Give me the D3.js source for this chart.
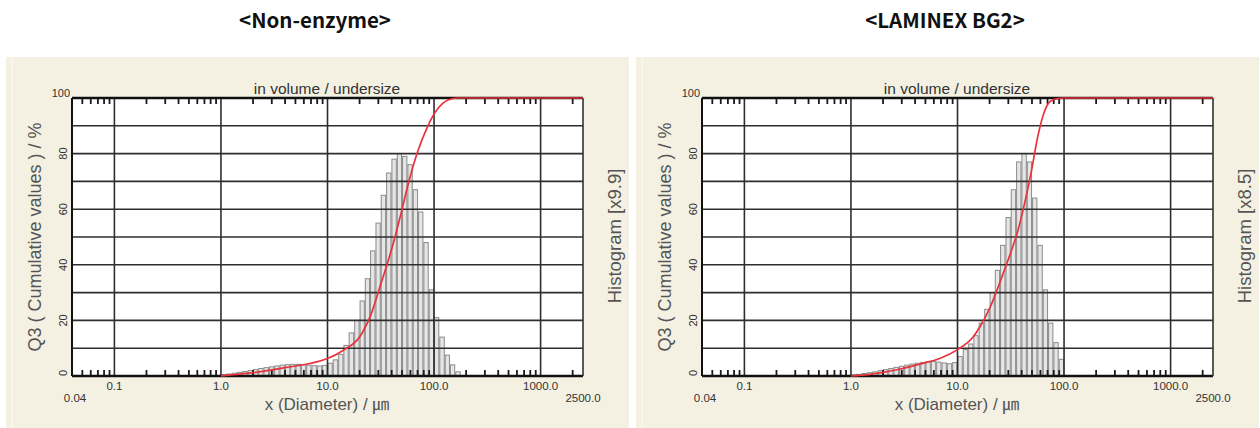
<!DOCTYPE html>
<html>
<head>
<meta charset="utf-8">
<script src="https://cdn.jsdelivr.net/npm/d3@7/dist/d3.min.js"></script>
<style>
  html, body { margin: 0; padding: 0; background: #ffffff; }
  svg { display: block; }
</style>
</head>
<body>
<script>
// ---------------- DATA ----------------
const panelTitles = ["<Non-enzyme>", "<LAMINEX BG2>"];
const histLabels = ["Histogram [x9.9]", "Histogram [x8.5]"];
const topLabel = "in volume / undersize";
const yTitle = "Q3 ( Cumulative values ) / %";
const xTitle = "x (Diameter) / \u339B";

const xMajorTicks = [0.1, 1, 10, 100, 1000];
const xMajorLabels = ["0.1", "1.0", "10.0", "100.0", "1000.0"];
const xDomain = [0.04, 2500];
const xEdgeLabels = ["0.04", "2500.0"];
const yTicks = [0, 20, 40, 60, 80, 100];
const yGrid = [10, 20, 30, 40, 50, 60, 70, 80, 90];

// histogram class boundaries (µm)
const binEdges = [1.0, 1.12, 1.26, 1.41, 1.58, 1.78, 2.0, 2.24, 2.51, 2.82, 3.16, 3.55, 3.98, 4.47, 5.01,
  5.62, 6.31, 7.08, 7.94, 8.91, 10.0, 11.2, 12.6, 14.1, 15.8, 17.8, 20.0, 22.4, 25.1, 28.2, 31.6, 35.5,
  39.8, 44.7, 50.1, 56.2, 63.1, 70.8, 79.4, 89.1, 100, 112, 126, 141, 158, 178];

// histogram heights (scaled, on the % axis)
const histNonEnzyme = [0.5, 0.7, 1.0, 1.3, 1.6, 2.0, 2.3, 2.7, 3.0, 3.3, 3.6, 3.9, 4.1, 4.2, 4.2, 4.1, 3.9, 3.7, 3.6, 3.8,
  4.6, 5.8, 7.8, 11, 15.5, 20, 27, 35, 45, 55,
  65, 73, 78, 80, 79, 76, 67, 59, 48, 31,
  21, 14, 7.5, 4, 1.5];
const histLaminex = [0.4, 0.6, 0.9, 1.2, 1.5, 1.9, 2.3, 2.7, 3.1, 3.5, 3.9, 4.3, 4.6, 4.9, 5.1, 5.2, 5.0, 4.7, 4.4, 4.8,
  7, 9.5, 11.5, 14.5, 19, 24, 30, 38, 47, 57,
  67, 77, 80, 77, 64, 47, 31, 19, 12, 6,
  0, 0, 0, 0, 0];

// cumulative Q3 curves
const cumDiamNonEnzyme = [1.0, 1.3, 2, 3, 4, 5, 7, 10, 14, 20, 25.5, 31.6, 37.5, 43.7, 49, 57.6, 70.6, 87.6, 103, 120, 135, 168, 2500];
const cumNonEnzyme     = [0, 0.5, 1.2, 2.2, 3.0, 3.6, 4.6, 6.3, 9.2, 14, 22, 33, 42, 51, 58.5, 69.5, 81, 90, 95, 98, 99.3, 100, 100];
const cumDiamLaminex = [1.0, 1.5, 2, 3, 4, 5, 7, 10, 14, 16.4, 20.4, 23, 26.6, 30, 36.7, 42, 49, 56.6, 64.6, 72, 80, 98, 2500];
const cumLaminex     = [0, 0.6, 1.3, 2.6, 3.8, 4.8, 6.5, 9.5, 14, 18, 25, 30, 36.5, 42, 52, 61, 73, 86, 94.5, 98.3, 99.4, 100, 100];

// ---------------- DRAW ----------------
const W = 1260, H = 428;
const svg = d3.select("body").append("svg").attr("width", W).attr("height", H);
const FONT = "'Liberation Sans', Arial, 'Noto Sans CJK KR', sans-serif";

const panels = [
  { dx: 0, title: panelTitles[0], hlabel: histLabels[0], hist: histNonEnzyme, cd: cumDiamNonEnzyme, cv: cumNonEnzyme },
  { dx: 630, title: panelTitles[1], hlabel: histLabels[1], hist: histLaminex, cd: cumDiamLaminex, cv: cumLaminex }
];

panels.forEach(p => {
  const g = svg.append("g").attr("transform", `translate(${p.dx},0)`);

  // panel title
  g.append("text").attr("x", 315).attr("y", 28).attr("text-anchor", "middle")
    .attr("font-family", "'Noto Sans CJK KR', 'Noto Sans', sans-serif").attr("font-weight", "bold")
    .attr("font-size", 20.5).attr("fill", "#111").text(p.title);

  // beige window background
  g.append("rect").attr("x", 6).attr("y", 57).attr("width", 623).attr("height", 371).attr("fill", "#f4f1e3");
  g.append("line").attr("x1", 12).attr("x2", 12).attr("y1", 57).attr("y2", 428).attr("stroke", "#f9f7ef").attr("stroke-width", 1.5);

  const x = d3.scaleLog().domain(xDomain).range([72, 583]);
  const y = d3.scaleLinear().domain([0, 100]).range([376, 98]);

  // plot area
  g.append("rect").attr("x", x(xDomain[0])).attr("y", y(100)).attr("width", x(xDomain[1]) - x(xDomain[0]))
    .attr("height", y(0) - y(100)).attr("fill", "#ffffff");

  // histogram bars
  g.append("g").selectAll("rect").data(p.hist.map((h, i) => ({ h, a: binEdges[i], b: binEdges[i + 1] })).filter(d => d.h > 0))
    .join("rect")
    .attr("x", d => x(d.a) + 0.5)
    .attr("width", d => Math.max(0.5, x(d.b) - x(d.a) - 1))
    .attr("y", d => y(d.h))
    .attr("height", d => y(0) - y(d.h))
    .attr("fill", "#e6e6e6").attr("stroke", "#8a8a8a").attr("stroke-width", 1);

  // grid
  const grid = g.append("g").attr("stroke", "#2e2e2e").attr("stroke-width", 1.6);
  grid.selectAll("line.v").data(xMajorTicks).join("line").attr("class", "v")
    .attr("x1", d => x(d)).attr("x2", d => x(d)).attr("y1", y(100)).attr("y2", y(0));
  grid.selectAll("line.h").data(yGrid).join("line").attr("class", "h")
    .attr("x1", x(xDomain[0])).attr("x2", x(xDomain[1])).attr("y1", d => y(d)).attr("y2", d => y(d));

  // minor ticks (top and bottom, inside)
  const minor = x.ticks().filter(v => Math.abs(Math.log10(v) - Math.round(Math.log10(v))) > 1e-6 && v > xDomain[0] && v < xDomain[1]);
  const tk = g.append("g").attr("stroke", "#1a1a1a").attr("stroke-width", 1.8);
  tk.selectAll("line.b").data(minor).join("line").attr("class", "b")
    .attr("x1", d => x(d)).attr("x2", d => x(d)).attr("y1", y(0)).attr("y2", y(0) - 6);
  tk.selectAll("line.t").data(minor).join("line").attr("class", "t")
    .attr("x1", d => x(d)).attr("x2", d => x(d)).attr("y1", y(100)).attr("y2", y(100) + 6);

  // frame
  g.append("line").attr("x1", x(xDomain[0])).attr("x2", x(xDomain[1])).attr("y1", y(0)).attr("y2", y(0))
    .attr("stroke", "#111").attr("stroke-width", 2.5);
  g.append("line").attr("x1", x(xDomain[0])).attr("x2", x(xDomain[1])).attr("y1", y(100)).attr("y2", y(100))
    .attr("stroke", "#111").attr("stroke-width", 2.5);
  g.append("line").attr("x1", x(xDomain[0])).attr("x2", x(xDomain[0])).attr("y1", y(100)).attr("y2", y(0))
    .attr("stroke", "#111").attr("stroke-width", 2);
  g.append("line").attr("x1", x(xDomain[1])).attr("x2", x(xDomain[1])).attr("y1", y(100)).attr("y2", y(0))
    .attr("stroke", "#333").attr("stroke-width", 1.6);

  // cumulative curve
  const line = d3.line().x(d => x(d[0])).y(d => y(d[1])).curve(d3.curveMonotoneX);
  g.append("path").datum(p.cd.map((d, i) => [d, p.cv[i]]))
    .attr("d", line).attr("fill", "none").attr("stroke", "#e8323c").attr("stroke-width", 1.7);

  // x tick labels
  g.append("g").selectAll("text").data(xMajorTicks).join("text")
    .attr("x", d => x(d)).attr("y", 390).attr("text-anchor", "middle")
    .attr("font-family", FONT).attr("font-size", 11.5).attr("fill", "#333")
    .text((d, i) => xMajorLabels[i]);
  g.append("g").selectAll("text").data(xDomain).join("text")
    .attr("x", (d, i) => x(d) + (i === 0 ? 3 : 0)).attr("y", 402).attr("text-anchor", "middle")
    .attr("font-family", FONT).attr("font-size", 11.5).attr("fill", "#333")
    .text((d, i) => xEdgeLabels[i]);

  // y tick labels
  yTicks.forEach(v => {
    if (v === 100) {
      g.append("text").attr("x", 70).attr("y", y(v) - 1).attr("text-anchor", "end")
        .attr("font-family", FONT).attr("font-size", 11).attr("fill", "#333").text(v);
    } else {
      const yy = v === 0 ? y(v) - 3 : y(v);
      g.append("text").attr("transform", `translate(67,${yy}) rotate(-90)`).attr("text-anchor", "middle")
        .attr("font-family", FONT).attr("font-size", 11).attr("fill", "#333").text(v);
    }
  });

  // axis titles
  g.append("text").attr("transform", "translate(41,237) rotate(-90)").attr("text-anchor", "middle")
    .attr("font-family", FONT).attr("font-size", 18).attr("fill", "#555").text(yTitle);
  g.append("text").attr("transform", "translate(621,236) rotate(-90)").attr("text-anchor", "middle")
    .attr("font-family", FONT).attr("font-size", 18.5).attr("fill", "#555").text(p.hlabel);
  g.append("text").attr("x", 327).attr("y", 94).attr("text-anchor", "middle")
    .attr("font-family", FONT).attr("font-size", 15.5).attr("fill", "#333").text(topLabel);
  g.append("text").attr("x", 327).attr("y", 410).attr("text-anchor", "middle")
    .attr("font-family", FONT).attr("font-size", 17).attr("fill", "#555").text(xTitle);
});
</script>
</body>
</html>
